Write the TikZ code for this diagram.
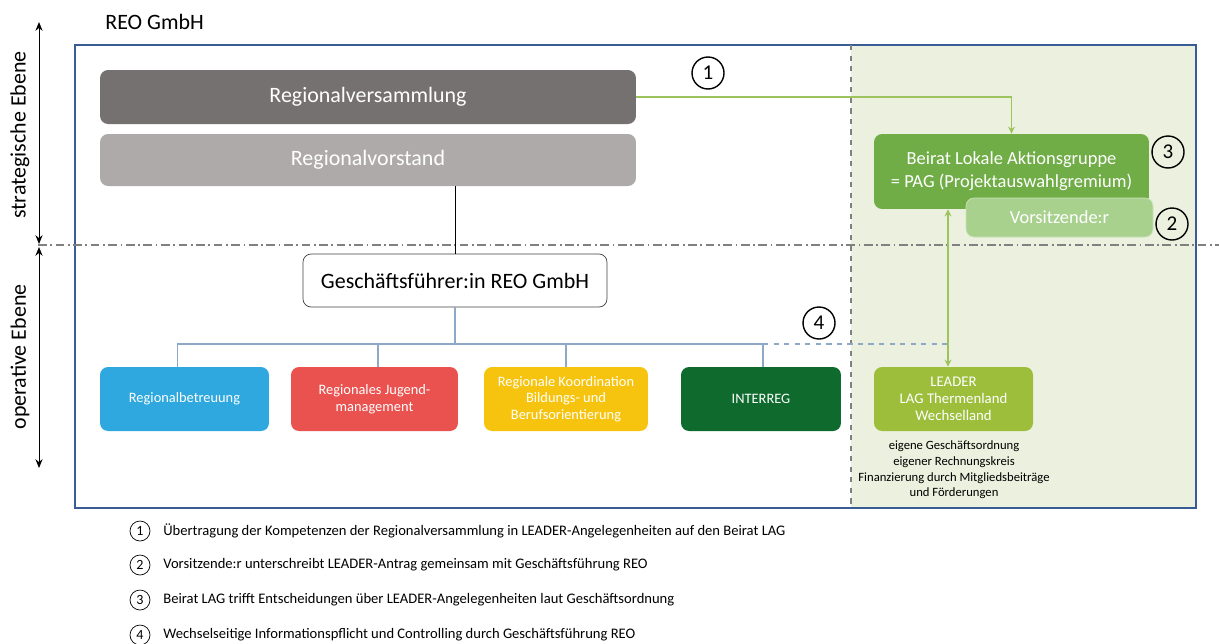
\documentclass[tikz,border=0pt]{standalone}
\usepackage{fontspec}
\setmainfont{Carlito}
\usetikzlibrary{arrows.meta,positioning,calc}

\definecolor{frameblue}{HTML}{3A5C94}
\definecolor{areagreen}{HTML}{EBF1DE}
\definecolor{treeline}{HTML}{8EA9C8}
\definecolor{linkgreen}{HTML}{9DC35E}
\definecolor{versgray}{HTML}{767171}
\definecolor{vorsgray}{HTML}{AEAAAA}
\definecolor{bluebox}{HTML}{2EA8DE}
\definecolor{redbox}{HTML}{E9524F}
\definecolor{yellowbox}{HTML}{F6C40E}
\definecolor{darkgreenbox}{HTML}{0E6A2D}
\definecolor{leadergreen}{HTML}{9CBE3B}
\definecolor{beiratgreen}{HTML}{70AD47}
\definecolor{vorsgreen}{HTML}{A9D18E}

\begin{document}
\begin{tikzpicture}[
		x=0.02cm, y=-0.02cm,
		box/.style={rectangle, rounded corners=0.16cm, inner sep=2pt, align=center, text=white},
		bigtext/.style={font=\fontsize{12.5}{15}\selectfont},
		midtext/.style={font=\fontsize{10.5}{13}\selectfont},
		smalltext/.style={font=\fontsize{8.2}{9.4}\selectfont},
		unit/.style={box, smalltext, minimum height=1.28cm},
		num/.style={circle, draw, thick, minimum size=0.64cm, inner sep=0pt, font=\fontsize{12}{14}\selectfont},
		legnum/.style={circle, draw, minimum size=0.40cm, inner sep=0pt, font=\fontsize{8}{9}\selectfont},
		legtext/.style={anchor=west, inner sep=0pt, font=\fontsize{8.3}{9.5}\selectfont},
		tree/.style={treeline, line width=0.7pt},
		link/.style={linkgreen, line width=0.7pt, -{Stealth[length=4pt,width=4pt]}},
		level/.style={line width=0.5pt, {Stealth[length=5pt,width=4pt]}-{Stealth[length=5pt,width=4pt]}}
	]
	\useasboundingbox (0,0) rectangle (1219,643);

	\fill[areagreen] (851,45) rectangle (1196,508);
	\draw[frameblue, line width=0.9pt] (75,45) rectangle (1196,508);
	\draw[gray, dashed, line width=0.6pt] (851,45) -- (851,508);
	\draw[gray, line width=0.6pt, dash pattern=on 5pt off 2pt on 1pt off 2pt] (38,245) -- (1219,245);

	\node[bigtext, anchor=west, inner sep=0pt] (reo) at (105,22) {REO GmbH};

	\coordinate (stop) at (39,22);
	\coordinate (smid) at (39,244);
	\coordinate (omid) at (39,247);
	\coordinate (obot) at (39,468);
	\draw[level] (stop) -- (smid);
	\draw[level] (omid) -- (obot);
	\node[bigtext, rotate=90] (strat) at (20,135) {strategische Ebene};
	\node[bigtext, rotate=90] (oper) at (20,357) {operative Ebene};

	\node[box, bigtext, fill=versgray, minimum width=10.72cm, minimum height=1.08cm] (versammlung) at (368,97) {Regionalversammlung};
	\node[box, bigtext, fill=vorsgray, minimum width=10.72cm, minimum height=1.04cm] (vorstand) at (368,160) {Regionalvorstand};
	\node[box, bigtext, text=black, fill=white, draw=black!75, minimum width=6.08cm, minimum height=1.06cm] (gf) at (455,280.5) {Geschäftsführer:in REO GmbH};

	\node[unit, fill=bluebox, minimum width=3.38cm] (betreuung) at (184.5,399) {Regionalbetreuung};
	\node[unit, fill=redbox, minimum width=3.34cm] (jugend) at (374.5,399) {Regionales Jugend-\\management};
	\node[unit, fill=yellowbox, minimum width=3.28cm] (bildung) at (566,399) {Regionale Koordination\\Bildungs- und\\Berufsorientierung};
	\node[unit, fill=darkgreenbox, minimum width=3.20cm] (interreg) at (761,399) {INTERREG};
	\node[unit, fill=leadergreen, minimum width=3.18cm, font=\fontsize{8.4}{9.8}\selectfont] (leader) at (953.5,399) {LEADER\\LAG Thermenland\\Wechselland};
	\node[align=center, font=\fontsize{7.2}{8.9}\selectfont] (lagnotes) at (954,470) {eigene Geschäftsordnung\\eigener Rechnungskreis\\Finanzierung durch Mitgliedsbeiträge\\und Förderungen};

	\node[box, midtext, fill=beiratgreen, minimum width=5.50cm, minimum height=1.50cm] (beirat) at (1011.5,171.5) {Beirat Lokale Aktionsgruppe\\= PAG (Projektauswahlgremium)};
	\node[box, midtext, fill=vorsgreen, draw=vorsgreen!60, minimum width=3.74cm, minimum height=0.78cm] (vorsitz) at (1059.5,217.5) {Vorsitzende:r};

	\node[num] (n1) at (708,73) {1};
	\node[num] (n2) at (1172,224) {2};
	\node[num] (n3) at (1168,152) {3};
	\node[num] (n4) at (819,323) {4};

	\draw[black, line width=0.45pt] (gf.north) -- (gf.north |- vorstand.south);
	\coordinate (bus) at (0,344);
	\draw[tree] (gf.south) -- (gf.south |- bus);
	\draw[tree] ([xshift=-0.14cm]betreuung.north) -- ([xshift=-0.14cm]betreuung.north |- bus) -- ([xshift=0.04cm]interreg.north |- bus) -- ([xshift=0.04cm]interreg.north);
	\draw[tree] ([xshift=0.07cm]jugend.north) -- ([xshift=0.07cm]jugend.north |- bus);
	\draw[tree] (bildung.north) -- (bildung.north |- bus);
	\draw[tree, dashed] ([xshift=0.04cm]interreg.north |- bus) -- ([xshift=-0.11cm]leader.north |- bus);

	\draw[link] (versammlung.east) -| (beirat.north);
	\draw[link, {Stealth[length=4pt,width=4pt]}-{Stealth[length=4pt,width=4pt]}] ([xshift=-0.11cm]leader.north |- beirat.south) -- ([xshift=-0.11cm]leader.north);

	\node[legnum] (l1) at (140,531) {1};
	\node[legnum] (l2) at (140,565) {2};
	\node[legnum] (l3) at (140,600) {3};
	\node[legnum] (l4) at (140,635) {4};
	\node[legtext] (t1) at (163,531) {Übertragung der Kompetenzen der Regionalversammlung in LEADER-Angelegenheiten auf den Beirat LAG};
	\node[legtext] (t2) at (163,565) {Vorsitzende:r unterschreibt LEADER-Antrag gemeinsam mit Geschäftsführung REO};
	\node[legtext] (t3) at (163,600) {Beirat LAG trifft Entscheidungen über LEADER-Angelegenheiten laut Geschäftsordnung};
	\node[legtext] (t4) at (163,635) {Wechselseitige Informationspflicht und Controlling durch Geschäftsführung REO};
\end{tikzpicture}
\end{document}
